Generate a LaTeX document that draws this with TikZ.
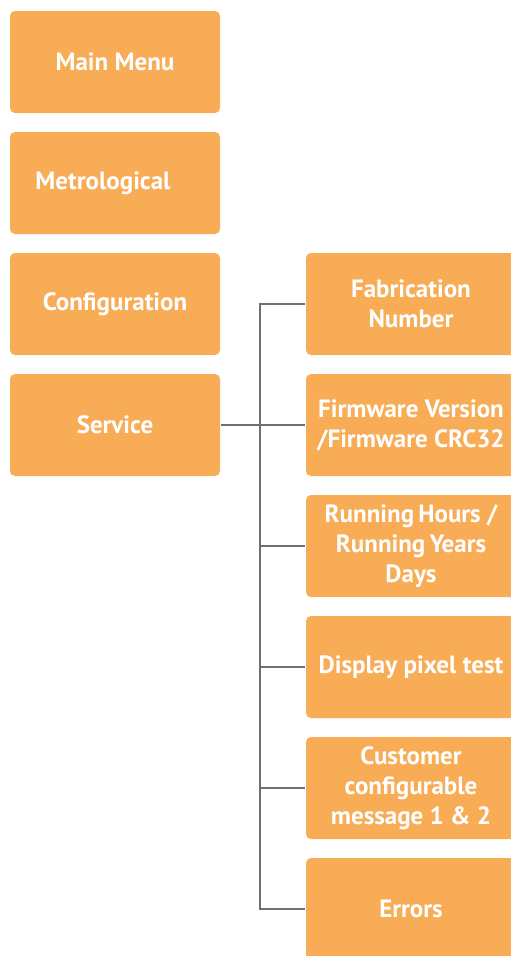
\documentclass[tikz,border=0pt]{standalone}
\usepackage{fontspec}
\setmainfont{PT Sans}
\usetikzlibrary{positioning}
\definecolor{corange}{HTML}{F8AC55}
\definecolor{cgrey}{HTML}{697076}
\tikzset{
  every picture/.style={font=\bfseries, line width=2pt},
  menubox/.style={fill=corange, rounded corners=5pt, align=center, text=white,
                  minimum width=210pt, minimum height=102pt, inner sep=2pt,
                  font=\fontsize{25}{30}\selectfont\bfseries},
  link/.style={draw=cgrey, line width=2pt},
}
\begin{document}
\begin{tikzpicture}[x=1pt, y=-1pt]
  \useasboundingbox (0,0) rectangle (511,956);
  % left column
  \node[menubox] (main) at (115,62) {Main Menu};
  \node[menubox] (metro) at (115,183) {\mbox{Metrological\hspace{24pt}}};
  \node[menubox] (config) at (115,304) {Configuration};
  \node[menubox] (service) at (115,425) {Service};
  % right column, service items
  \foreach \n/\txt [count=\i] in {fab/{Fabrication\\Number}, fw/{Firmware Version\\/Firmware CRC32},
      run/{Running\,Hours /\\Running\,Years\\Days}, disp/{Display pixel test},
      cust/{Customer\\configurable\\message 1 \& 2}, err/{Errors}} {
    \node[menubox] (\n) at (411, 304 + 121*\i - 121) {\txt};
  }
  \draw[link] (service.east) -- (fw.west);
  \draw[link] (fab.west) -- ++(-45,0) coordinate (trunk) |- (err.west);
  \foreach \n in {run,disp,cust}
    \draw[link] (\n.west) -- (\n.west -| trunk);
\end{tikzpicture}
\end{document}
